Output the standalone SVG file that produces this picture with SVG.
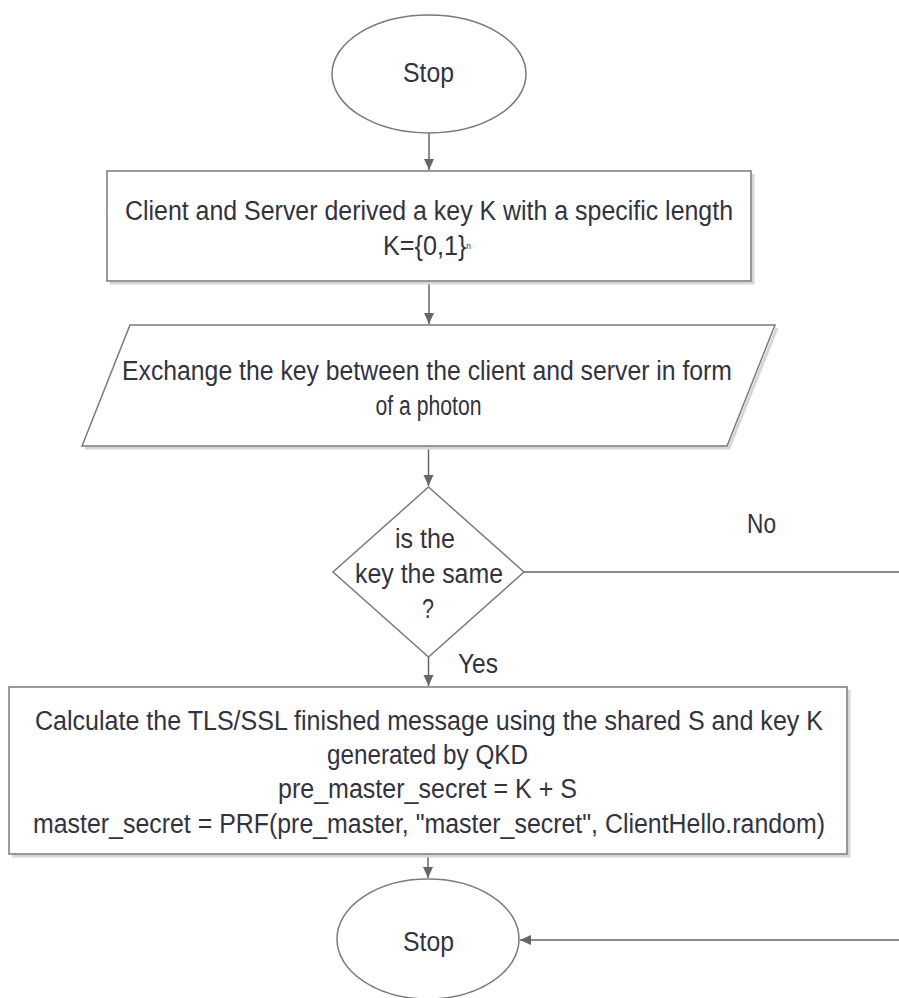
<svg xmlns="http://www.w3.org/2000/svg" width="899" height="998" viewBox="0 0 899 998">
<style>
.shape{fill:#ffffff;stroke:#7a7a7a;stroke-width:1.5}
.shadow{fill:none;stroke:#d6d6d6;stroke-width:3}
.conn{fill:none;stroke:#666666;stroke-width:1.5}
text{font-family:"Liberation Sans",Arial,sans-serif;font-size:27px;fill:#33333f;text-anchor:middle}
</style>
<defs>
<marker id="arr" markerUnits="userSpaceOnUse" markerWidth="12" markerHeight="12" viewBox="0 0 12 12" refX="11" refY="6" orient="auto">
<path d="M0,1 L11,6 L0,11 Z" fill="#666666"/>
</marker>
</defs>
<rect width="899" height="998" fill="#ffffff"/>
<g id="connectors">
<line class="conn" x1="429" y1="133" x2="429" y2="170" marker-end="url(#arr)"/>
<line class="conn" x1="429" y1="281" x2="429" y2="324" marker-end="url(#arr)"/>
<line class="conn" x1="428.5" y1="446" x2="428.5" y2="486" marker-end="url(#arr)"/>
<line class="conn" x1="428.5" y1="657" x2="428.5" y2="686" marker-end="url(#arr)"/>
<line class="conn" x1="428" y1="854" x2="428" y2="878" marker-end="url(#arr)"/>
<path class="conn" d="M524,572 H901 V940 H520" marker-end="url(#arr)"/>
</g>
<g id="start">
<ellipse class="shape" cx="429" cy="74" rx="97" ry="59"/>
<text x="428.5" y="82" textLength="51" lengthAdjust="spacingAndGlyphs">Stop</text>
</g>
<g id="derive">
<path class="shadow" d="M753,174 V283 H110"/>
<rect class="shape" x="107" y="171" width="644" height="110"/>
<text x="429" y="220" textLength="608" lengthAdjust="spacingAndGlyphs">Client and Server derived a key K with a specific length</text>
<text x="383" y="255" style="text-anchor:start" textLength="88" lengthAdjust="spacingAndGlyphs">K={0,1}<tspan style="font-size:9px" dy="-6">n</tspan></text>
</g>
<g id="exchange">
<path class="shadow" d="M777,328 L729,448 H85"/>
<polygon class="shape" points="130,325 775,325 727,446 82,446"/>
<text x="427" y="380" textLength="610" lengthAdjust="spacingAndGlyphs">Exchange the key between the client and server in form</text>
<text x="428.5" y="415" textLength="106" lengthAdjust="spacingAndGlyphs">of a photon</text>
</g>
<g id="decision">
<polygon class="shape" points="428.5,487 524,572 428.5,657 333,572"/>
<text x="425" y="548" textLength="60" lengthAdjust="spacingAndGlyphs">is the</text>
<text x="429" y="583" textLength="148" lengthAdjust="spacingAndGlyphs">key the same</text>
<text x="428" y="618" textLength="12" lengthAdjust="spacingAndGlyphs">?</text>
</g>
<g id="labels">
<text x="478" y="673" textLength="40" lengthAdjust="spacingAndGlyphs">Yes</text>
<text x="761.5" y="533" textLength="29" lengthAdjust="spacingAndGlyphs">No</text>
</g>
<g id="calculate">
<path class="shadow" d="M849,690 V856 H12"/>
<rect class="shape" x="9" y="687" width="838" height="167"/>
<text x="429" y="730" textLength="788" lengthAdjust="spacingAndGlyphs">Calculate the TLS/SSL finished message using the shared S and key K</text>
<text x="427.5" y="764" textLength="201" lengthAdjust="spacingAndGlyphs">generated by QKD</text>
<text x="427.5" y="798" textLength="299" lengthAdjust="spacingAndGlyphs">pre_master_secret = K + S</text>
<text x="429" y="833" textLength="792" lengthAdjust="spacingAndGlyphs">master_secret = PRF(pre_master, "master_secret", ClientHello.random)</text>
</g>
<g id="stop">
<ellipse class="shape" cx="428" cy="939" rx="91" ry="60"/>
<text x="428.5" y="951" textLength="51" lengthAdjust="spacingAndGlyphs">Stop</text>
</g>
</svg>
